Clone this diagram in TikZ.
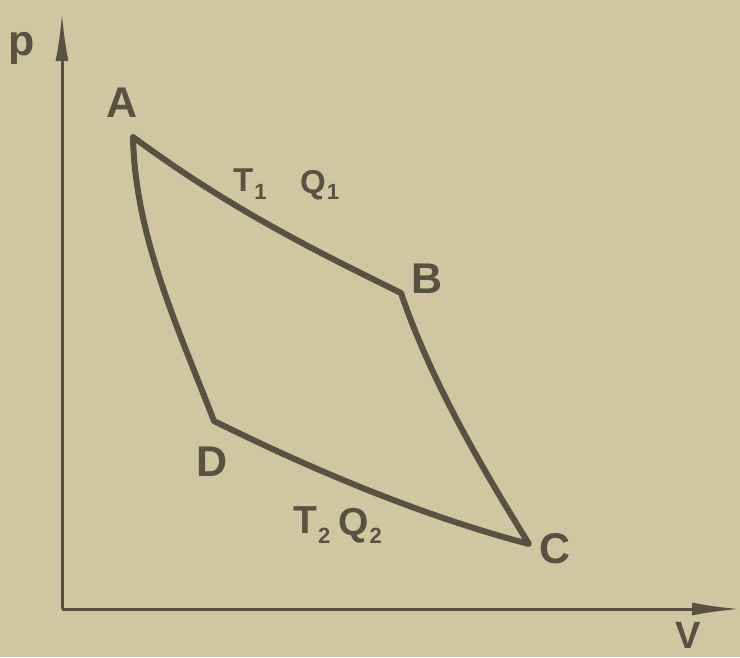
\documentclass[tikz,border=0pt]{standalone}
\usepackage{fontspec}
\setmainfont{Liberation Sans}
\usetikzlibrary{arrows.meta}
\definecolor{paper}{RGB}{208,198,161}
\definecolor{ink}{RGB}{88,82,66}
\newcommand{\subnum}[2]{\kern1pt\raisebox{-#2}{\fontsize{22}{22}\selectfont #1}}
\begin{document}
\begin{tikzpicture}[x=1pt,y=-1pt,
  lbl/.style={text=ink,font=\bfseries\fontsize{43}{43}\selectfont,inner sep=0pt},
  tq/.style={text=ink,font=\bfseries\fontsize{33}{33}\selectfont,inner sep=0pt,anchor=base west},
  tqb/.style={text=ink,font=\bfseries\fontsize{39}{39}\selectfont,inner sep=0pt,anchor=base west},
  axis/.style={draw=ink,line width=3pt,-{Latex[length=48pt,width=13pt]}},
  cycle/.style={draw=ink,line width=6pt,line join=round,line cap=round}]
\fill[paper] (0,0) rectangle (740,657);
\useasboundingbox (0,0) rectangle (740,657);
% axes
\coordinate (O) at (62,609);
\coordinate (ytip) at (62,13);
\coordinate (xtip) at (740,609);
\draw[axis] (O) -- (ytip);
\draw[axis] (O) -- (xtip);
\node[lbl] (plabel) at (22,48) {p};
\node[lbl,font=\bfseries\fontsize{38}{38}\selectfont] (vlabel) at (688,635) {V};
% cycle corners
\coordinate (A) at (133,137);
\coordinate (B) at (401,293);
\coordinate (C) at (529,544);
\coordinate (D) at (214,421);
\draw[cycle] (A) .. controls (233,211) and (322,254) .. (B)
  .. controls (430,378) and (477,460) .. (C)
  .. controls (430,518) and (323,475) .. (D)
  .. controls (179,330) and (135,237) .. (A);
% labels
\node[lbl] (la) at (122,103) {A};
\node[lbl] (lb) at (427,279) {B};
\node[lbl] (lc) at (555,549) {C};
\node[lbl] (ld) at (212,462) {D};
\node[tq] (t1) at (233,191) {T\subnum{1}{8pt}};
\node[tq] (q1) at (300,193) {Q\subnum{1}{6pt}};
\node[tqb] (t2) at (293,533) {T\subnum{2}{10pt}};
\node[tqb] (q2) at (338,535) {Q\subnum{2}{8pt}};
\end{tikzpicture}
\end{document}
